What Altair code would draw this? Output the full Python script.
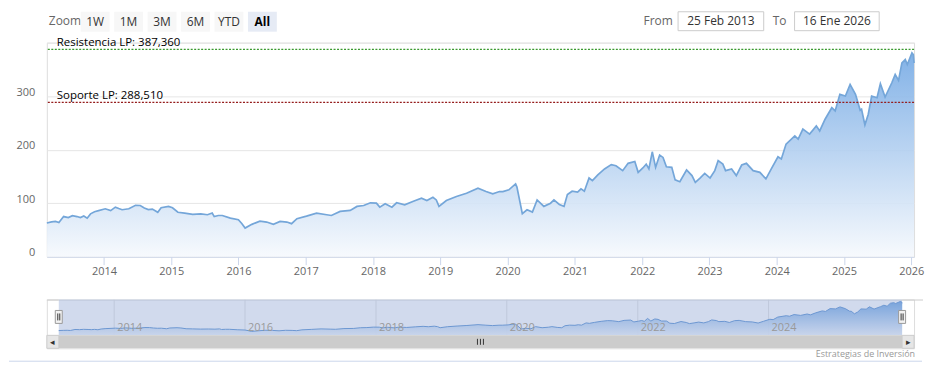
import altair as alt
import pandas as pd

# ---------------- data ----------------
t_years = [2013.151, 2013.22, 2013.28, 2013.33, 2013.40, 2013.47, 2013.53, 2013.60, 2013.65, 2013.70,
           2013.75, 2013.80, 2013.86, 2013.92, 2014.02, 2014.10, 2014.17, 2014.22, 2014.27, 2014.37,
           2014.47, 2014.54, 2014.60, 2014.66, 2014.72, 2014.80, 2014.85, 2014.96, 2015.02, 2015.10,
           2015.20, 2015.32, 2015.44, 2015.54, 2015.61, 2015.64, 2015.70, 2015.76, 2015.88, 2016.00,
           2016.05, 2016.10, 2016.20, 2016.32, 2016.42, 2016.52, 2016.62, 2016.72, 2016.79, 2016.87,
           2017.01, 2017.16, 2017.31, 2017.38, 2017.51, 2017.66, 2017.76, 2017.86, 2017.96, 2018.05,
           2018.10, 2018.18, 2018.28, 2018.35, 2018.47, 2018.60, 2018.72, 2018.80, 2018.89, 2018.94,
           2018.98, 2019.09, 2019.24, 2019.39, 2019.56, 2019.68, 2019.78, 2019.88, 2019.93, 2020.02,
           2020.12, 2020.14, 2020.22, 2020.29, 2020.37, 2020.44, 2020.54, 2020.64, 2020.69, 2020.77,
           2020.84, 2020.89, 2020.96, 2021.04, 2021.09, 2021.14, 2021.21, 2021.26, 2021.34, 2021.44,
           2021.54, 2021.61, 2021.71, 2021.79, 2021.89, 2021.94, 2022.01, 2022.06, 2022.10, 2022.15,
           2022.20, 2022.26, 2022.31, 2022.36, 2022.44, 2022.49, 2022.56, 2022.66, 2022.74, 2022.79,
           2022.86, 2022.93, 2023.01, 2023.08, 2023.13, 2023.20, 2023.24, 2023.33, 2023.40, 2023.48,
           2023.55, 2023.65, 2023.75, 2023.84, 2023.92, 2024.02, 2024.07, 2024.14, 2024.27, 2024.32,
           2024.39, 2024.49, 2024.59, 2024.64, 2024.72, 2024.82, 2024.87, 2024.94, 2025.02, 2025.09,
           2025.17, 2025.24, 2025.26, 2025.31, 2025.36, 2025.41, 2025.49, 2025.54, 2025.61, 2025.71,
           2025.76, 2025.81, 2025.86, 2025.91, 2025.94, 2026.01, 2026.03, 2026.041]
prices = [63, 65, 66, 64, 75, 73, 76.5, 75, 73, 76,
          72, 80, 84, 86, 89.5, 86, 92.5, 90, 87.7, 89.5,
          96, 95.7, 91, 88, 89, 83, 91.4, 94, 91.4, 83,
          81.5, 79, 80, 78.4, 81.5, 75, 77, 77, 72, 69,
          62, 53.5, 60.4, 66.5, 64.7, 60.4, 66, 64.7, 61.7, 71,
          75.8, 81.5, 78.4, 77, 84.6, 86.4, 93.9, 95.7, 100.7, 100,
          92.6, 98.9, 92.6, 100.7, 97, 103.7, 109.3, 105, 111, 106,
          94, 105, 112.5, 118.6, 128, 121.7, 117.5, 121.7, 121.7, 125,
          136, 130, 80.3, 87.7, 83.3, 106, 94, 100, 106, 97.6,
          94, 116, 122.3, 120.5, 126.8, 122.3, 147, 142, 152.8, 164,
          172, 170, 160.8, 174.4, 178, 157.6, 165.8, 173, 164, 196,
          167, 190, 185.5, 168, 167, 143.5, 140, 162, 151.5, 139,
          147, 155.8, 147, 160.8, 179.4, 173, 160.8, 164, 151.5, 171.3,
          174.4, 160.8, 157.6, 145.4, 164, 186.8, 182.5, 210.4, 225.8, 219.7,
          238.3, 229, 244.4, 235, 256.9, 278.4, 272.3, 303.3, 300.2, 322,
          303.3, 273.6, 275.4, 246.3, 266.2, 300.2, 297, 323, 298.3, 325,
          340.5, 329.4, 362, 368.4, 359, 380.7, 377.7, 362]

level_names = ["Resistencia LP: 387,360", "Soporte LP: 288,510"]
level_values = [387.36, 288.51]
level_colors = ["#3a9a2e", "#951c1c"]

x_tick_years = list(range(2014, 2027))
nav_label_years = [2014, 2016, 2018, 2020, 2022, 2024]
y_ticks = [0, 100, 200, 300, 400]
zoom_buttons = ["1W", "1M", "3M", "6M", "YTD", "All"]
date_from = "25 Feb 2013"
date_to = "16 Ene 2026"
credit = "Estrategias de Inversión"


def yr2date(y):
    yi = int(y)
    return pd.Timestamp(year=yi, month=1, day=1) + pd.Timedelta(days=(y - yi) * 365.25)


df = pd.DataFrame({"date": [yr2date(y) for y in t_years], "value": prices})
FONT = "Open Sans"

W, H = 871, 215
x_main = alt.X("date:T", scale=alt.Scale(domain=["2013-02-25", "2026-01-16"], nice=False),
               axis=alt.Axis(values=[alt.DateTime(year=y, month=1, date=1) for y in x_tick_years],
                             format="%Y", title=None, grid=False, domainColor="#ccd6eb",
                             tickColor="#ccd6eb", tickSize=8, labelPadding=1, labelFontSize=11,
                             labelColor="#666666", labelFont=FONT, labelFlush=False))
y_main = alt.Y("value:Q", scale=alt.Scale(domain=[0, 400], nice=False),
               axis=alt.Axis(values=y_ticks, title=None, ticks=False, domain=False,
                             gridColor="#e6e6e6", labelPadding=12, labelFontSize=11,
                             labelColor="#666666", labelFont=FONT, labelOffset=-4,
                             labelExpr="datum.value == 400 ? '' : datum.label"))

grad = alt.Gradient(gradient="linear",
                    stops=[alt.GradientStop(color="#74a9e4", offset=0),
                           alt.GradientStop(color="#f6f9fd", offset=1)],
                    x1=1, x2=1, y1=0, y2=1)

base = alt.Chart(df)
area = base.mark_area(color=grad, opacity=0.9).encode(x=x_main, y=y_main)
line = base.mark_line(color="#74a6d9", strokeWidth=1.7).encode(x="date:T", y="value:Q")

lvl_layers = []
for name, val, col in zip(level_names, level_values, level_colors):
    d = pd.DataFrame({"name": [name], "value": [val]})
    lvl_layers.append(alt.Chart(d).mark_rule(strokeDash=[2, 1.5], strokeWidth=1.2, color=col,
                                             opacity=1).encode(y="value:Q"))
    lvl_layers.append(alt.Chart(d).mark_text(align="left", baseline="alphabetic", dy=-3,
                                             fontSize=11.5, font=FONT, color="#000000").encode(
        x=alt.value(10), y="value:Q", text="name:N"))

one = pd.DataFrame({"k": [0]})


def rect(x0, x1, y0, y1, fill, stroke=None, opacity=1.0, sw=1):
    kw = dict(fill=fill, opacity=opacity)
    if stroke:
        kw.update(stroke=stroke, strokeWidth=sw)
    return alt.Chart(one).mark_rect(**kw).encode(
        x=alt.value(x0), x2=alt.value(x1), y=alt.value(y0), y2=alt.value(y1))


def txt(s, x, y, size=12, color="#333333", align="center", weight="normal"):
    return alt.Chart(one).mark_text(text=s, fontSize=size, color=color, align=align,
                                    baseline="middle", font=FONT, fontWeight=weight).encode(
        x=alt.value(x), y=alt.value(y))


def seg(x0, x1, y0, y1, color, sw=1):
    return alt.Chart(one).mark_rule(color=color, strokeWidth=sw).encode(
        x=alt.value(x0), x2=alt.value(x1), y=alt.value(y0), y2=alt.value(y1))


ui = [rect(-38, -37, -33, -32, "#ffffff", opacity=0), txt("Zoom", 2, -22, color="#666666", align="left")]
for i, b in enumerate(zoom_buttons):
    x0 = 34 + i * 33.6
    sel = b == "All"
    ui.append(rect(x0, x0 + 29, -31, -11, "#e6ebf5" if sel else "#f7f7f7"))
    ui.append(txt(b, x0 + 14.5, -21, color="#000000" if sel else "#333333",
                  weight="bold" if sel else "normal"))
ui += [txt("From", 614, -22, color="#666666"),
       rect(634, 720, -31, -12, "#ffffff", stroke="#cccccc"),
       txt(date_from, 677, -21.5),
       txt("To", 736, -22, color="#666666"),
       rect(751, 836, -31, -12, "#ffffff", stroke="#cccccc"),
       txt(date_to, 793.5, -21.5)]

main = alt.layer(area, line, *lvl_layers, *ui).properties(width=W, height=H)

# ---------------- navigator ----------------
NH = 49
x_nav = alt.X("date:T", scale=alt.Scale(domain=["2012-12-21", "2026-03-23"], nice=False), axis=None)
y_nav = alt.Y("value:Q", scale=alt.Scale(domain=[-131, 403], nice=False), axis=None)
nav_years = pd.DataFrame({"date": [pd.Timestamp(year=y, month=1, day=1) for y in nav_label_years],
                          "label": [str(y) for y in nav_label_years]})

nav_grid = alt.Chart(nav_years).mark_rule(color="#e6e6e6", strokeWidth=1).encode(
    x=x_nav, y=alt.value(0), y2=alt.value(36))
nav_area = alt.Chart(df).mark_area(color=grad, opacity=0.9).encode(x=x_nav, y=y_nav)
nav_line = alt.Chart(df).mark_line(color="#6f9fd8", strokeWidth=1).encode(x="date:T", y="value:Q")
nav_mask = rect(12, 859, 0, 36, "rgb(102,133,194)", opacity=0.3)
nav_lbl = alt.Chart(nav_years).mark_text(align="left", baseline="middle", dx=3, fontSize=11,
                                         font=FONT, color="#999999").encode(
    x="date:T", y=alt.value(29), text="label:N")

deco = [
    seg(0, 12, 0.5, 0.5, "#cccccc"), seg(859, 880, 0.5, 0.5, "#cccccc"),
    rect(0, 871, 36, 49, "#f2f2f2"),
    rect(12, 859, 36, 49, "#cccccc"),
    rect(0, 12, 36, 49, "#e6e6e6", stroke="#cccccc"),
    rect(859, 871, 36, 49, "#e6e6e6", stroke="#cccccc"),
    txt("◂", 6, 42.5, size=9, color="#333333"),
    txt("▸", 865, 42.5, size=9, color="#333333"),
    seg(432.5, 432.5, 39.5, 45.5, "#333333"), seg(435.5, 435.5, 39.5, 45.5, "#333333"),
    seg(438.5, 438.5, 39.5, 45.5, "#333333"),
    rect(8.5, 15.5, 11, 24, "#f2f2f2", stroke="#999999"),
    seg(11, 11, 14, 21, "#333333"), seg(13, 13, 14, 21, "#333333"),
    rect(855.5, 862.5, 11, 24, "#f2f2f2", stroke="#999999"),
    seg(858, 858, 14, 21, "#333333"), seg(860, 860, 14, 21, "#333333"),
    txt(credit, 872, 54.5, size=9, color="#999999", align="right"),
    seg(-38, 879, 62, 62, "#ccd6eb"),
]

nav = alt.layer(nav_grid, nav_area, nav_line, nav_mask, nav_lbl, *deco).resolve_scale(
    x="shared", y="shared").properties(width=W, height=NH)

chart = alt.vconcat(main, nav, spacing=43, bounds="flush").properties(
    padding={"left": 0, "top": 0, "right": 0, "bottom": 0}
).configure_view(stroke=None).configure(font=FONT)

chart.save("out.html", embed_options={"renderer": "svg", "actions": False})
